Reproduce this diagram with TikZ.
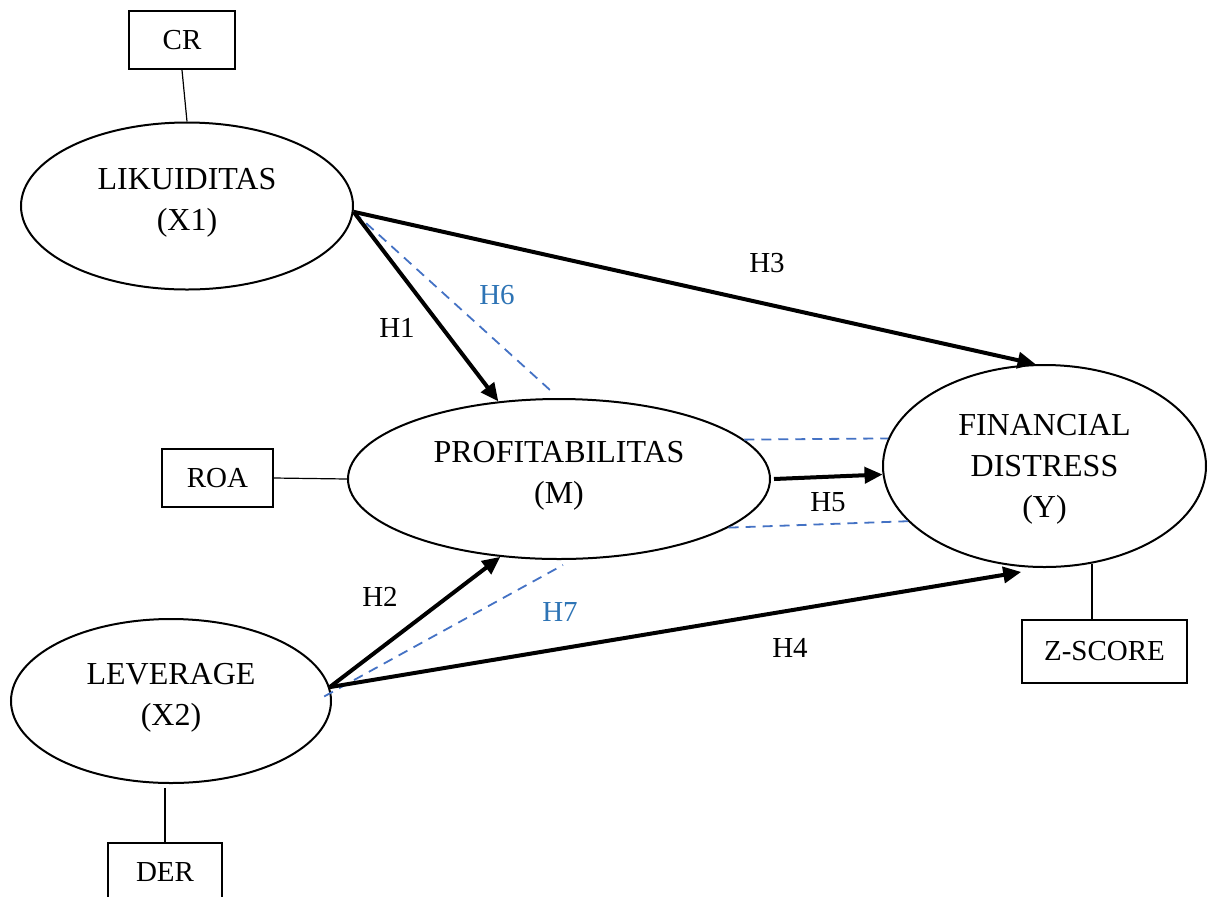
\documentclass[tikz,border=0pt]{standalone}
\usepackage{fontspec}
\setmainfont{Liberation Serif}
\usetikzlibrary{shapes.geometric,arrows.meta}
\definecolor{dashblue}{HTML}{4472C4}
\definecolor{labblue}{HTML}{2E74B5}
\begin{document}
\begin{tikzpicture}[x=0.5pt,y=-0.5pt,
 latent/.style={draw,ellipse,line width=1pt,inner sep=0pt,align=center,font=\fontsize{16}{20.5}\selectfont},
 indicator/.style={draw,rectangle,line width=1pt,inner sep=0pt,font=\fontsize{14.5}{17}\selectfont},
 hyp/.style={font=\fontsize{14.5}{17}\selectfont,inner sep=0pt},
 hypblue/.style={hyp,text=labblue},
 effect/.style={line width=2pt,-{Triangle[length=9pt,width=8pt]}},
 link/.style={line width=0.6pt},
 med/.style={draw=dashblue,line width=0.9pt,dash pattern=on 5pt off 3.5pt}]
\clip (0,0) rectangle (1212,896);
% latent variables
\node[latent,minimum width=166pt,minimum height=83.5pt,text depth=7pt] (x1) at (187,206) {LIKUIDITAS\\(X1)};
\node[latent,minimum width=211pt,minimum height=80pt,text depth=7pt] (m) at (559,479) {PROFITABILITAS\\(M)};
\node[latent,minimum width=161.5pt,minimum height=101pt,text depth=0pt] (y) at (1044.5,466) {FINANCIAL\\DISTRESS\\(Y)};
\node[latent,minimum width=160pt,minimum height=82pt,text depth=7pt] (x2) at (171,701) {LEVERAGE\\(X2)};
% indicators
\node[indicator,minimum width=53pt,minimum height=29pt] (cr) at (182,40) {CR};
\node[indicator,minimum width=55.5pt,minimum height=29pt] (roa) at (217.5,478) {ROA};
\node[indicator,minimum width=82.5pt,minimum height=31.5pt] (zs) at (1104.5,651.5) {Z-SCORE};
\node[indicator,minimum width=57pt,minimum height=29pt] (der) at (165,872) {DER};
% free ends of mediation lines
\coordinate (h6end) at (550,390);
\coordinate (h7end) at (563,565);
% indicator links
\draw[link] (cr.south) -- (x1.north);
\draw[link] (roa.east) -- (m.west);
\draw[link] (y.-64) -- (y.-64 |- zs.north);
\draw[link,shorten >=2pt] (der.north) -- (der.north |- x2.south);
% mediation (dashed)
\draw[med] (x1.-2) -- (h6end);
\draw[med,shorten <=-4pt] (x2.3) -- (h7end);
\draw[med] (m.12.3) -- (y.170.2);
\draw[med] (m.-16.4) -- (y.202.3);
% direct effects
\draw[effect] (x1.-2) -- (m.128.7);
\draw[effect] (x1.-2) -- (y.95);
\draw[effect] (x2.5.4) -- (m.233.6);
\draw[effect] (x2.5.4) -- ([yshift=-2.5pt]y.257.4);
\draw[effect] ([xshift=1.5pt]m.east) -- (y.183.3);
% hypothesis labels
\node[hyp] (lh1) at (397,328) {H1};
\node[hypblue] (lh6) at (497,295) {H6};
\node[hyp] (lh3) at (767,263) {H3};
\node[hyp] (lh5) at (828,502) {H5};
\node[hyp] (lh4) at (790,648) {H4};
\node[hyp] (lh2) at (380,597) {H2};
\node[hypblue] (lh7) at (560,612) {H7};
\end{tikzpicture}
\end{document}
